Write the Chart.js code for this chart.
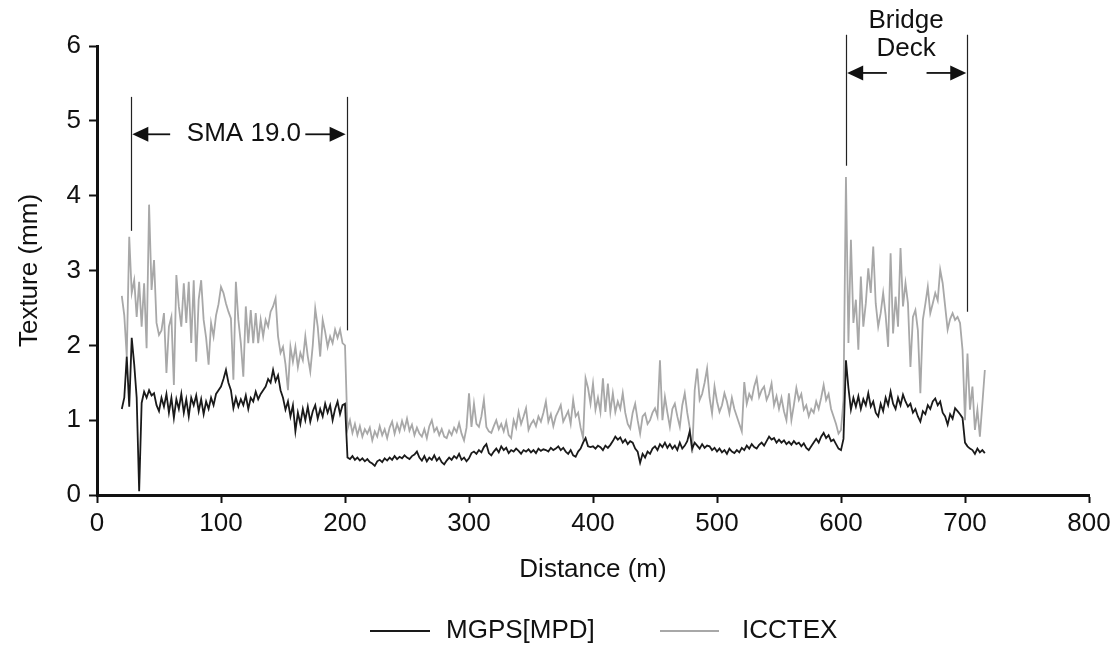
<!DOCTYPE html>
<html>
<head>
<meta charset="utf-8">
<script src="https://cdn.jsdelivr.net/npm/chart.js@4.4.1/dist/chart.umd.min.js"></script>
<style>
html,body{margin:0;padding:0;background:#fff;}
canvas{display:block;}
</style>
</head>
<body>
<canvas id="c" width="1120" height="647"></canvas>
<script>
// Sampling grid: distance (m) of first sample and spacing between samples
const distStart = 20;
const distStep = 2;

// MGPS[MPD] texture (mm), one value per sample
const mgps = [
1.15,1.30,1.85,1.18,2.10,1.75,1.30,0.05,1.23,1.38,
1.30,1.40,1.33,1.36,1.20,1.12,1.30,1.18,1.35,1.10,
1.30,1.03,1.28,1.15,1.35,1.10,1.28,1.05,1.30,1.20,
1.33,1.12,1.28,1.08,1.25,1.15,1.30,1.20,1.35,1.40,
1.45,1.55,1.67,1.50,1.40,1.16,1.30,1.18,1.28,1.20,
1.33,1.15,1.30,1.25,1.38,1.28,1.35,1.40,1.45,1.55,
1.50,1.67,1.52,1.60,1.40,1.30,1.14,1.25,1.05,1.20,
0.85,1.10,0.95,1.15,1.00,1.18,0.98,1.12,1.20,1.02,
1.15,1.05,1.22,1.10,1.20,1.00,1.15,1.25,1.08,1.20,
1.22,0.50,0.48,0.52,0.47,0.50,0.46,0.49,0.45,0.48,
0.44,0.42,0.39,0.45,0.47,0.44,0.49,0.46,0.50,0.47,
0.52,0.48,0.51,0.49,0.53,0.50,0.48,0.52,0.54,0.58,
0.50,0.46,0.52,0.45,0.50,0.47,0.53,0.46,0.50,0.44,
0.41,0.46,0.50,0.47,0.52,0.49,0.55,0.47,0.50,0.45,
0.49,0.56,0.58,0.55,0.60,0.57,0.64,0.68,0.56,0.53,
0.58,0.62,0.57,0.65,0.60,0.63,0.56,0.60,0.58,0.62,
0.59,0.55,0.60,0.58,0.61,0.57,0.60,0.56,0.62,0.59,
0.61,0.60,0.58,0.63,0.60,0.62,0.65,0.60,0.63,0.58,
0.55,0.60,0.53,0.51,0.58,0.62,0.70,0.76,0.65,0.64,
0.65,0.62,0.66,0.64,0.60,0.66,0.63,0.67,0.72,0.78,
0.74,0.77,0.70,0.74,0.68,0.72,0.70,0.62,0.58,0.43,
0.55,0.50,0.58,0.55,0.62,0.65,0.60,0.68,0.64,0.70,
0.63,0.68,0.62,0.66,0.60,0.70,0.62,0.66,0.72,0.85,
0.62,0.70,0.66,0.62,0.68,0.63,0.66,0.65,0.60,0.63,
0.58,0.62,0.57,0.60,0.55,0.62,0.58,0.56,0.60,0.57,
0.63,0.60,0.66,0.62,0.68,0.64,0.62,0.67,0.70,0.66,
0.72,0.78,0.74,0.76,0.70,0.74,0.70,0.73,0.68,0.71,
0.67,0.72,0.68,0.70,0.65,0.69,0.63,0.60,0.65,0.70,
0.75,0.70,0.78,0.83,0.76,0.80,0.72,0.74,0.68,0.62,
0.60,0.75,1.80,1.43,1.14,1.30,1.18,1.32,1.15,1.28,
1.20,1.36,1.18,1.25,1.10,1.05,1.22,1.12,1.30,1.20,
1.38,1.22,1.15,1.30,1.20,1.34,1.25,1.18,1.22,1.10,
1.15,1.05,0.98,1.12,1.08,1.20,1.15,1.25,1.29,1.20,
1.25,1.10,1.05,0.94,1.08,1.02,1.16,1.12,1.08,1.03,
0.70,0.65,0.62,0.60,0.55,0.62,0.57,0.60,0.56
];

// ICCTEX texture (mm), one value per sample
const icctex = [
2.66,2.40,1.85,3.45,2.70,2.87,2.38,2.85,2.25,2.83,
1.96,3.88,2.74,3.14,2.30,2.14,2.20,2.43,1.63,2.25,
2.38,1.47,2.94,2.52,2.25,2.83,2.30,2.85,2.03,2.87,
1.78,2.61,2.87,2.34,2.10,1.74,2.30,2.12,2.40,2.55,
2.78,2.70,2.56,2.45,2.36,1.54,2.85,2.34,2.03,1.58,
2.52,2.03,2.47,2.03,2.43,2.03,2.34,2.12,2.34,2.25,
2.45,2.52,2.63,2.12,1.90,1.98,1.75,1.40,1.98,1.78,
1.98,1.71,1.90,1.80,2.12,1.85,1.65,2.00,2.49,2.25,
1.85,2.34,2.18,1.98,2.12,2.03,2.21,2.10,2.21,2.03,
2.00,0.88,1.00,0.83,0.95,0.80,0.92,0.78,0.88,0.82,
0.90,0.73,0.85,0.78,0.92,0.80,0.88,0.76,0.90,0.98,
0.82,0.95,0.85,0.99,0.88,1.02,0.86,0.94,0.80,0.90,
0.82,0.78,0.88,0.76,0.92,1.00,0.85,0.90,0.80,0.88,
0.78,0.76,0.86,0.80,0.90,0.84,0.96,0.82,0.73,0.90,
1.36,0.91,1.22,0.95,0.91,1.05,1.27,0.91,0.85,0.83,
0.92,1.00,0.88,0.95,0.85,0.98,0.80,0.76,1.00,0.90,
1.11,0.95,1.05,1.16,0.87,0.95,1.00,0.92,1.05,0.98,
1.10,1.25,0.98,1.08,0.92,1.05,1.12,1.20,0.98,1.05,
1.12,0.95,1.27,1.05,1.10,0.90,0.76,1.56,1.43,1.22,
1.49,1.14,1.30,1.11,1.56,1.11,1.49,1.11,1.36,1.11,
1.25,1.15,1.36,1.10,0.95,0.89,1.10,1.22,1.00,0.82,
1.05,1.09,0.95,1.00,1.10,1.16,1.05,1.80,1.00,1.31,
1.10,0.91,1.15,1.22,1.05,0.91,1.20,1.36,1.10,0.90,
0.56,1.40,1.69,1.27,1.35,1.50,1.69,1.30,1.09,1.45,
1.25,1.11,1.20,1.36,1.25,1.09,1.30,1.15,1.05,0.95,
0.85,1.51,1.22,1.35,1.28,1.45,1.56,1.31,1.40,1.45,
1.27,1.35,1.49,1.20,1.32,1.15,1.30,1.12,1.00,1.36,
1.00,1.20,1.43,1.27,1.35,1.14,1.20,1.05,1.15,1.10,
1.25,1.15,1.30,1.47,1.27,1.35,1.15,1.05,0.95,0.82,
0.87,1.27,4.25,2.03,3.41,2.30,2.61,1.94,2.92,2.25,
2.56,3.03,2.70,3.32,2.56,2.25,2.43,2.70,2.40,1.98,
3.23,2.16,2.65,2.25,3.30,2.52,2.83,2.56,1.71,2.38,
2.47,2.20,1.36,2.34,2.55,2.78,2.43,2.56,2.70,2.60,
3.01,2.83,2.52,2.21,2.35,2.43,2.34,2.38,2.30,1.94,
1.00,1.89,1.14,1.45,0.87,1.14,0.78,1.22,1.67
];

// Axis ticks
const xTicks = [0,100,200,300,400,500,600,700,800];
const yTicks = [0,1,2,3,4,5,6];

// Annotation markers (distance, m)
const smaStart = 27.5, smaEnd = 201.5;
const bridgeStart = 604, bridgeEnd = 702;

const distance = mgps.map((_, i) => distStart + distStep * i);
const toPts = vals => vals.map((v, i) => ({x: distance[i], y: v}));

const FONT = '"Liberation Sans", Arial, sans-serif';
const FS = 26;

const annot = {
  id: 'annot',
  afterDatasetsDraw(chart) {
    const {ctx} = chart;
    const xs = chart.scales.x, ys = chart.scales.y;
    ctx.save();
    ctx.strokeStyle = '#222';
    ctx.lineWidth = 1.2;
    const vline = (xv, y1, y2) => {
      const px = Math.round(xs.getPixelForValue(xv)) + 0.5;
      ctx.beginPath();
      ctx.moveTo(px, ys.getPixelForValue(y1));
      ctx.lineTo(px, ys.getPixelForValue(y2));
      ctx.stroke();
    };
    vline(smaStart, 5.32, 3.53);
    vline(smaEnd, 5.32, 2.20);
    vline(bridgeStart, 6.15, 4.40);
    vline(bridgeEnd, 6.15, 2.45);

    const arrow = (xTip, xTail, yv) => {
      const tip = xs.getPixelForValue(xTip);
      const tail = xs.getPixelForValue(xTail);
      const py = ys.getPixelForValue(yv);
      const dir = tail > tip ? 1 : -1;
      ctx.strokeStyle = '#111';
      ctx.lineWidth = 1.8;
      ctx.beginPath();
      ctx.moveTo(tip + dir * 10, py);
      ctx.lineTo(tail, py);
      ctx.stroke();
      ctx.fillStyle = '#111';
      ctx.beginPath();
      ctx.moveTo(tip, py);
      ctx.lineTo(tip + dir * 16, py - 7.5);
      ctx.lineTo(tip + dir * 16, py + 7.5);
      ctx.closePath();
      ctx.fill();
    };
    arrow(smaStart + 1, 59, 4.82);
    arrow(smaEnd - 1, 168, 4.82);
    arrow(bridgeStart + 1, 637, 5.64);
    arrow(bridgeEnd - 1, 669, 5.64);

    ctx.fillStyle = '#111';
    ctx.font = FS + 'px ' + FONT;
    ctx.textAlign = 'center';
    ctx.textBaseline = 'middle';
    ctx.fillText('SMA 19.0', xs.getPixelForValue(118.5), ys.getPixelForValue(4.83));
    ctx.fillText('Bridge', xs.getPixelForValue(652.5), 21);
    ctx.fillText('Deck', xs.getPixelForValue(652.5), 49);

    // legend
    const ly = 631;
    ctx.lineWidth = 2.2;
    ctx.strokeStyle = '#1a1a1a';
    ctx.beginPath(); ctx.moveTo(370, ly); ctx.lineTo(430, ly); ctx.stroke();
    ctx.strokeStyle = '#a8a8a8';
    ctx.beginPath(); ctx.moveTo(660, ly); ctx.lineTo(719, ly); ctx.stroke();
    ctx.textAlign = 'left';
    ctx.fillStyle = '#111';
    ctx.fillText('MGPS[MPD]', 446, ly);
    ctx.fillText('ICCTEX', 742, ly);
    ctx.restore();
  }
};

new Chart(document.getElementById('c'), {
  type: 'line',
  data: {
    datasets: [
      {label: 'MGPS[MPD]', data: toPts(mgps), borderColor: '#1a1a1a', borderWidth: 1.8, pointRadius: 0, tension: 0, order: 1},
      {label: 'ICCTEX', data: toPts(icctex), borderColor: '#a8a8a8', borderWidth: 1.8, pointRadius: 0, tension: 0, order: 2}
    ]
  },
  options: {
    responsive: false,
    animation: false,
    devicePixelRatio: 1,
    layout: {padding: {top: 46, right: 31, left: 0, bottom: 60}},
    plugins: {legend: {display: false}, tooltip: {enabled: false}},
    scales: {
      x: {
        type: 'linear', min: 0, max: 800,
        afterBuildTicks: s => { s.ticks = xTicks.map(v => ({value: v})); },
        afterFit: s => { s.height = 92; },
        ticks: {color: '#111', font: {family: FONT, size: FS}, padding: 5, maxRotation: 0},
        grid: {display: true, drawOnChartArea: false, drawTicks: true, tickLength: 8, tickWidth: 2, tickColor: '#111'},
        border: {display: true, color: '#111', width: 3},
        title: {display: true, text: 'Distance (m)', color: '#111', font: {family: FONT, size: FS}, padding: {top: 0, bottom: 2}}
      },
      y: {
        type: 'linear', min: 0, max: 6,
        afterBuildTicks: s => { s.ticks = yTicks.map(v => ({value: v})); },
        afterFit: s => { s.width = 97; },
        ticks: {color: '#111', font: {family: FONT, size: FS}, padding: 8},
        grid: {display: true, drawOnChartArea: false, drawTicks: true, tickLength: 8, tickWidth: 2, tickColor: '#111'},
        border: {display: true, color: '#111', width: 3},
        title: {display: true, text: 'Texture (mm)', color: '#111', font: {family: FONT, size: FS}, padding: {top: 14, bottom: 0}}
      }
    }
  },
  plugins: [annot]
});
</script>
</body>
</html>
